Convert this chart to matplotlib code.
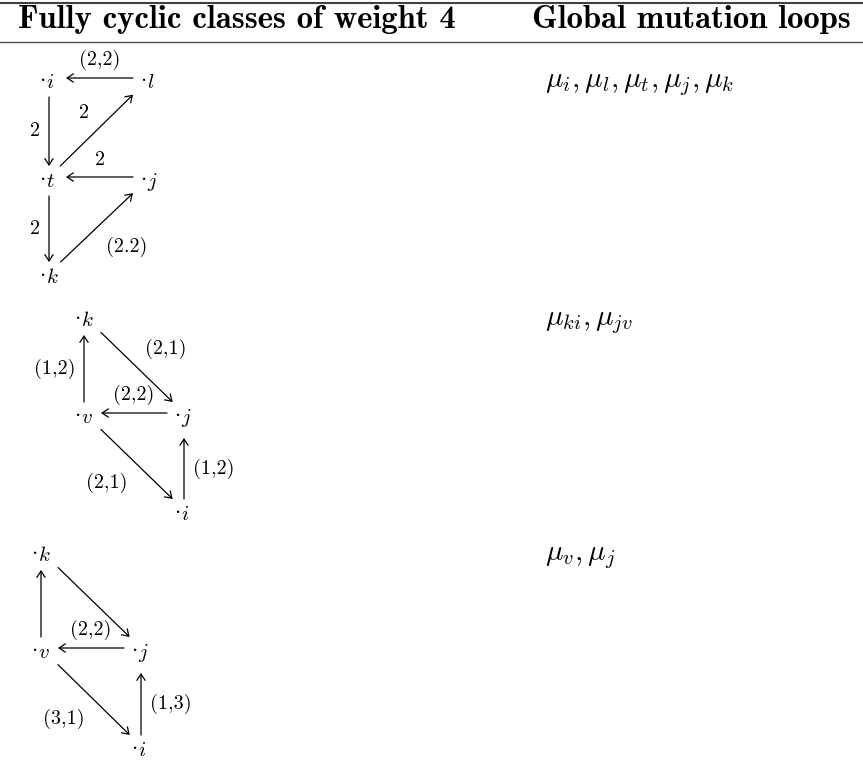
import numpy as np
import matplotlib
matplotlib.use('Agg')
import matplotlib.pyplot as plt

plt.rcParams['mathtext.fontset'] = 'cm'

header = ['Fully cyclic classes of weight 4', 'Global mutation loops']

# quiver classes: node -> (row, col) in the diagram grid
nodes1 = {'i': (0, 0), 'l': (0, 1), 't': (1, 0), 'j': (1, 1), 'k': (2, 0)}
edges1 = [('l', 'i', '(2,2)', 'above'),
          ('i', 't', '2', 'left'),
          ('t', 'l', '2', 'above left'),
          ('j', 't', '2', 'above'),
          ('t', 'k', '2', 'left'),
          ('k', 'j', '(2.2)', 'below right')]
loops1 = ['i', 'l', 't', 'j', 'k']

nodes2 = {'k': (0, 0), 'v': (1, 0), 'j': (1, 1), 'i': (2, 1)}
edges2 = [('v', 'k', '(1,2)', 'left'),
          ('k', 'j', '(2,1)', 'above right'),
          ('j', 'v', '(2,2)', 'above'),
          ('v', 'i', '(2,1)', 'below left'),
          ('i', 'j', '(1,2)', 'right')]
loops2 = ['ki', 'jv']

nodes3 = {'k': (0, 0), 'v': (1, 0), 'j': (1, 1), 'i': (2, 1)}
edges3 = [('v', 'k', '', ''),
          ('k', 'j', '', ''),
          ('j', 'v', '(2,2)', 'above'),
          ('v', 'i', '(3,1)', 'below left'),
          ('i', 'j', '(1,3)', 'right')]
loops3 = ['v', 'j']

classes = [(nodes1, edges1, loops1), (nodes2, edges2, loops2), (nodes3, edges3, loops3)]

# layout (pixels): column x and row y of each diagram
grids = [([49, 150], [78, 177, 273]),
         ([84, 184], [316, 413, 510]),
         ([41, 141], [551, 648, 746])]

W, H = 863, 768
fig = plt.figure(figsize=(W / 100, H / 100), dpi=100)
ax = fig.add_axes([0, 0, 1, 1])
ax.set_xlim(0, W)
ax.set_ylim(H, 0)
ax.axis('off')

# table rules
ax.axhline(3, color='0.25', lw=1.5)
ax.axhline(41.5, color='0.3', lw=1.0)

ax.text(18, 28, header[0], family='cmb10', fontsize=23.5, va='baseline')
ax.text(532, 28, header[1], family='cmb10', fontsize=23.5, va='baseline')


def edge_dist(d, name):
    # fraction of vector d to leave the node box
    hw, up = 17, 11
    down = 25 if name == 'j' else 19
    ts = []
    if d[0] != 0:
        ts.append(hw / abs(d[0]))
    if d[1] > 0:
        ts.append(down / d[1])
    if d[1] < 0:
        ts.append(up / -d[1])
    return min(ts)


sides = {'above': ('center', 'bottom', 0, -8),
         'below': ('center', 'top', 0, 8),
         'left': ('right', 'center', -9, 0),
         'right': ('left', 'center', 9, 0),
         'above left': ('right', 'bottom', -8, -8),
         'above right': ('left', 'bottom', 8, -8),
         'below left': ('right', 'top', -9, 9),
         'below right': ('left', 'top', 9, 9)}

for (nodes, edges, loops), (xs, ys) in zip(classes, grids):
    pos = {n: np.array([xs[c], ys[r]], float) for n, (r, c) in nodes.items()}
    for n, p in pos.items():
        base = p[1] + 10
        ax.text(p[0] - 3, base, r'$%s$' % n, ha='left', va='baseline', fontsize=15)
        ax.text(p[0] - 4, base - 5, r'$\cdot$', ha='right', va='baseline', fontsize=16)
    for a, b, lab, side in edges:
        d = pos[b] - pos[a]
        start = pos[a] + edge_dist(d, a) * d
        end = pos[b] - edge_dist(-d, b) * d
        ax.annotate('', xy=end, xytext=start,
                    arrowprops=dict(arrowstyle='->,head_length=0.45,head_width=0.3',
                                    lw=0.9, color='black', shrinkA=0, shrinkB=0,
                                    mutation_scale=10))
        if lab:
            ha, va, ox, oy = sides[side]
            mid = (start + end) / 2
            ax.text(mid[0] + ox, mid[1] + oy, lab, family='cmr10', fontsize=14.5,
                    ha=ha, va=va)
    mu = '$' + ', '.join(r'\mu_{%s}' % s for s in loops) + '$'
    ax.text(545, ys[0] + 9, mu, fontsize=21, va='baseline')

fig.savefig('out.png', dpi=100)
